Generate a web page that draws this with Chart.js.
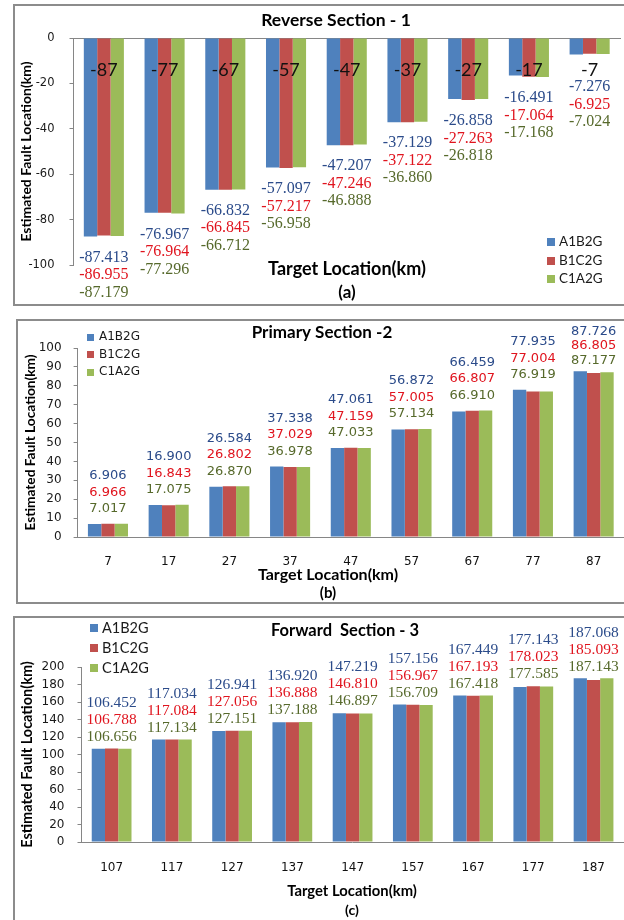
<!DOCTYPE html>
<html>
<head>
<meta charset="utf-8">
<title>Estimated Fault Location</title>
<script src="https://cdn.jsdelivr.net/npm/chart.js@4.4.1/dist/chart.umd.min.js"></script>
<style>
  html, body { margin: 0; padding: 0; background: #fff; }
  #page { position: relative; width: 624px; height: 920px; overflow: hidden; background: #fff; }
  .frame { position: absolute; border: 2px solid #8c8c8c; box-sizing: border-box; }
  .panel { position: absolute; left: 0; width: 624px; }
  canvas { display: block; }
</style>
</head>
<body>
<div id="page">
  <div class="frame" style="left:13px;top:4px;width:640px;height:302px"></div>
  <div class="frame" style="left:16px;top:319px;width:640px;height:285px"></div>
  <div class="frame" style="left:13px;top:616px;width:640px;height:330px"></div>
  <div class="panel" style="top:0px;height:310px"><canvas id="reverse" width="624" height="310"></canvas></div>
  <div class="panel" style="top:312px;height:296px"><canvas id="primary" width="624" height="296"></canvas></div>
  <div class="panel" style="top:610px;height:310px"><canvas id="forward" width="624" height="310"></canvas></div>
</div>
<script>
// ---- data ----
const seriesNames = ['A1B2G', 'B1C2G', 'C1A2G'];

const reverseTargets = ['-87', '-77', '-67', '-57', '-47', '-37', '-27', '-17', '-7'];
const reverseA1B2G = [-87.413, -76.967, -66.832, -57.097, -47.207, -37.129, -26.858, -16.491, -7.276];
const reverseB1C2G = [-86.955, -76.964, -66.845, -57.217, -47.246, -37.122, -27.263, -17.064, -6.925];
const reverseC1A2G = [-87.179, -77.296, -66.712, -56.958, -46.888, -36.860, -26.818, -17.168, -7.024];

const primaryTargets = ['7', '17', '27', '37', '47', '57', '67', '77', '87'];
const primaryA1B2G = [6.906, 16.900, 26.584, 37.338, 47.061, 56.872, 66.459, 77.935, 87.726];
const primaryB1C2G = [6.966, 16.843, 26.802, 37.029, 47.159, 57.005, 66.807, 77.004, 86.805];
const primaryC1A2G = [7.017, 17.075, 26.870, 36.978, 47.033, 57.134, 66.910, 76.919, 87.177];

const forwardTargets = ['107', '117', '127', '137', '147', '157', '167', '177', '187'];
const forwardA1B2G = [106.452, 117.034, 126.941, 136.920, 147.219, 157.156, 167.449, 177.143, 187.068];
const forwardB1C2G = [106.788, 117.084, 127.056, 136.888, 146.810, 156.967, 167.193, 178.023, 185.093];
const forwardC1A2G = [106.656, 117.134, 127.151, 137.188, 146.897, 156.709, 167.418, 177.585, 187.143];

// ---- styling ----
const barColors = ['#4F81BD', '#C0504D', '#9BBB59'];
const valueColors = ['#2B4B8A', '#E0141E', '#56692B'];
const axisColor = '#868686';

// Three stacked value labels per target group, placed past the end of the bars.
const groupLabels = {
  id: 'groupLabels',
  afterDatasetsDraw(chart, args, opts) {
    const { ctx, chartArea } = chart;
    const metas = chart.data.datasets.map((d, i) => chart.getDatasetMeta(i));
    ctx.save();
    ctx.font = opts.font;
    ctx.textAlign = 'center';
    ctx.textBaseline = 'middle';
    chart.data.labels.forEach((lbl, i) => {
      const bars = metas.map(m => m.data[i]);
      const cx = (bars[0].x + bars[bars.length - 1].x) / 2;
      const ys = bars.map(b => b.y);
      let lines;
      if (opts.below) {
        const end = Math.max(...ys);
        const first = Math.max(end + opts.gap, chartArea.top + opts.minFromTop);
        lines = bars.map((b, k) => first + k * opts.step);
      } else {
        const end = Math.min(...ys);
        let last = end - opts.gap;
        let first = last - (bars.length - 1) * opts.step;
        const limit = chartArea.top - opts.overTop;
        if (first < limit) {
          first = limit;
          last = Math.max(last, end - opts.tightGap);
        }
        const step = (last - first) / (bars.length - 1);
        lines = bars.map((b, k) => first + k * step);
      }
      chart.data.datasets.forEach((ds, k) => {
        ctx.fillStyle = valueColors[k];
        ctx.fillText(ds.data[i].toFixed(3), cx, lines[k]);
      });
    });
    ctx.restore();
  }
};

// Panel title, axis caption lines and the small legend.
const panelText = {
  id: 'panelText',
  afterDraw(chart, args, opts) {
    const ctx = chart.ctx;
    ctx.save();
    ctx.textBaseline = 'middle';
    opts.texts.forEach(t => {
      ctx.font = t.font;
      ctx.fillStyle = '#000';
      ctx.textAlign = 'center';
      ctx.fillText(t.text, t.x, t.y);
    });
    const lg = opts.legend;
    chart.data.datasets.forEach((ds, k) => {
      const y = lg.y + k * lg.step;
      ctx.fillStyle = ds.backgroundColor;
      ctx.fillRect(lg.x, Math.round(y - lg.box / 2), lg.box, lg.box);
      ctx.fillStyle = '#1a1a1a';
      ctx.font = lg.font;
      ctx.textAlign = 'left';
      ctx.fillText(ds.label, lg.x + lg.box + lg.gap, y);
    });
    ctx.restore();
  }
};

function makeChart(id, cfg) {
  const canvas = document.getElementById(id);
  return new Chart(canvas, {
    type: 'bar',
    data: {
      labels: cfg.labels,
      datasets: cfg.series.map((vals, k) => ({
        label: seriesNames[k],
        data: vals,
        backgroundColor: barColors[k],
        borderWidth: 0,
        categoryPercentage: 0.66,
        barPercentage: 1.0
      }))
    },
    options: {
      responsive: false,
      animation: false,
      layout: { padding: { left: 0, top: cfg.area.top, right: cfg.area.right, bottom: cfg.area.bottom } },
      plugins: {
        legend: { display: false },
        tooltip: { enabled: false },
        title: { display: false },
        groupLabels: cfg.valueLabels,
        panelText: cfg.text
      },
      scales: {
        x: {
          position: cfg.xPosition,
          afterFit(s) { s.height = cfg.xHeight; },
          grid: { display: false, drawTicks: false },
          border: { display: true, color: axisColor, width: 1 },
          ticks: {
            font: cfg.xFont,
            color: '#111',
            padding: cfg.xPad,
            z: 1,
            autoSkip: false,
            maxRotation: 0
          }
        },
        y: {
          min: cfg.yMin,
          max: cfg.yMax,
          afterFit(s) { s.width = cfg.area.left; },
          ticks: { stepSize: cfg.yStep, font: cfg.yFont, color: '#1a1a1a', padding: cfg.yPad },
          grid: { drawOnChartArea: false, drawTicks: true, tickLength: 4, color: axisColor },
          border: { display: true, color: axisColor, width: 1 },
          title: {
            display: true,
            text: 'Estimated Fault Location(km)',
            color: '#000',
            font: cfg.yTitleFont,
            padding: { top: cfg.yTitlePad, bottom: 0 }
          }
        }
      }
    },
    plugins: [groupLabels, panelText]
  });
}

function drawAll() {
  // (a) reverse section: negative bars hanging from the zero line at the top
  makeChart('reverse', {
    labels: reverseTargets,
    series: [reverseA1B2G, reverseB1C2G, reverseC1A2G],
    area: { left: 73.5, top: 38, right: 4, bottom: 45 },
    xPosition: { y: 0 },
    xHeight: 0,
    xFont: { family: 'Lato', size: 18 },
    xPad: 21,
    yMin: -100, yMax: 0, yStep: 20,
    yFont: { family: 'DejaVu Sans', size: 11.5 },
    yPad: 15,
    yTitleFont: { family: 'Lato', size: 14, weight: 'bold' },
    yTitlePad: 18,
    valueLabels: { font: '16px "Liberation Serif"', below: true, gap: 21, step: 17.5, minFromTop: 49 },
    text: {
      texts: [
        { text: 'Reverse Section - 1', x: 336, y: 20, font: 'bold 17.5px Lato' },
        { text: 'Target Location(km)', x: 347, y: 269, font: 'bold 18px Lato' },
        { text: '(a)', x: 347, y: 293, font: 'bold 17px Lato' }
      ],
      legend: { x: 547, y: 242, step: 18.5, box: 8, gap: 4, font: '13.5px Lato' }
    }
  });

  // (b) primary section
  makeChart('primary', {
    labels: primaryTargets,
    series: [primaryA1B2G, primaryB1C2G, primaryC1A2G],
    area: { left: 77.6, top: 36, right: 0, bottom: 31 },
    xPosition: 'bottom',
    xHeight: 40,
    xFont: { family: 'DejaVu Sans', size: 12 },
    xPad: 18,
    yMin: 0, yMax: 100, yStep: 10,
    yFont: { family: 'DejaVu Sans', size: 12 },
    yPad: 12,
    yTitleFont: { family: 'Lato', size: 13.7, weight: 'bold' },
    yTitlePad: 22.5,
    valueLabels: { font: '13px "DejaVu Sans"', below: false, gap: 15, step: 16.5, overTop: 16, tightGap: 11 },
    text: {
      texts: [
        { text: 'Primary Section -2', x: 322, y: 21, font: 'bold 17px Lato' },
        { text: 'Target Location(km)', x: 328, y: 263, font: 'bold 16px Lato' },
        { text: '(b)', x: 328, y: 281, font: 'bold 15px Lato' }
      ],
      legend: { x: 87, y: 25, step: 17.5, box: 7, gap: 5, font: '12px "DejaVu Sans"' }
    }
  });

  // (c) forward section
  makeChart('forward', {
    labels: forwardTargets,
    series: [forwardA1B2G, forwardB1C2G, forwardC1A2G],
    area: { left: 81.5, top: 57, right: 0, bottom: 38 },
    xPosition: 'bottom',
    xHeight: 40,
    xFont: { family: 'DejaVu Sans', size: 12 },
    xPad: 19,
    yMin: 0, yMax: 200, yStep: 20,
    yFont: { family: 'DejaVu Sans', size: 12 },
    yPad: 13,
    yTitleFont: { family: 'Lato', size: 14.5, weight: 'bold' },
    yTitlePad: 18.5,
    valueLabels: { font: '15.5px "Liberation Serif"', below: false, gap: 12, step: 17, overTop: 34, tightGap: 11 },
    text: {
      texts: [
        { text: 'Forward  Section - 3', x: 345, y: 21, font: 'bold 16.5px Lato' },
        { text: 'Target Location(km)', x: 352, y: 281, font: 'bold 14.8px Lato' },
        { text: '(c)', x: 352, y: 300, font: 'bold 14px Lato' }
      ],
      legend: { x: 90, y: 18, step: 20, box: 8, gap: 4, font: '14.5px Lato' }
    }
  });
}

if (document.fonts && document.fonts.load) {
  Promise.all([
    document.fonts.load('bold 16px Lato'),
    document.fonts.load('14px Lato'),
    document.fonts.load('13px "DejaVu Sans"'),
    document.fonts.load('15px "Liberation Serif"')
  ]).then(drawAll, drawAll);
} else {
  drawAll();
}
</script>
</body>
</html>
